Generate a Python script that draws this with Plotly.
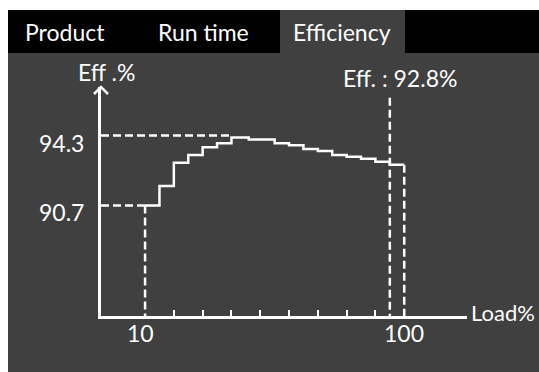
import plotly.graph_objects as go

# Efficiency curve: load (%) where each step starts, and efficiency (%) on that step
load_steps = [10, 15, 20, 25, 30, 35, 40, 46, 55, 60, 65, 70, 75, 80, 85, 90, 95, 100]
eff_steps = [90.7, 91.7, 92.9, 93.3, 93.7, 93.9, 94.2, 94.1, 93.9, 93.8, 93.6, 93.5,
             93.3, 93.2, 93.1, 92.95, 92.8, 92.8]

# Reference readings
peak_eff, peak_load = 94.3, 40
low_eff, low_load = 90.7, 10
cur_load, cur_eff = 95, 92.8
full_load = 100
cursor_top = 96.25

x_tick_vals = [20, 30, 40, 50, 60, 70, 80, 90]
x_labels = [10, 100]
y_labels = [94.3, 90.7]
tabs = ["Product", "Run time", "Efficiency"]

X_RANGE = [-5.3, 121.8]
Y_RANGE = [85.0, 96.8]

W, H = 539, 372
ML, MR, MT, MB = 101, 72, 87, 56
PW, PH = W - ML - MR, H - MT - MB

BG = "#404040"
FG = "#ffffff"
FONT = "Lato"
FS = 23


def px(x):
    return (x - ML) / PW


def py(y):
    return (H - MB - y) / PH


fig = go.Figure()

dash = "8px,4px"
line_kw = dict(color=FG, width=2.5)

# dashed guide lines
fig.add_trace(go.Scatter(x=[X_RANGE[0], peak_load], y=[peak_eff, peak_eff], mode="lines",
                         line=dict(dash=dash, **line_kw), hoverinfo="skip"))
fig.add_trace(go.Scatter(x=[X_RANGE[0], low_load], y=[low_eff, low_eff], mode="lines",
                         line=dict(dash=dash, **line_kw), hoverinfo="skip"))
fig.add_trace(go.Scatter(x=[low_load, low_load], y=[low_eff, Y_RANGE[0]], mode="lines",
                         line=dict(dash=dash, **line_kw), hoverinfo="skip"))
fig.add_trace(go.Scatter(x=[cur_load, cur_load], y=[cursor_top, Y_RANGE[0]], mode="lines",
                         line=dict(dash=dash, **line_kw), hoverinfo="skip"))
fig.add_trace(go.Scatter(x=[full_load, full_load], y=[eff_steps[-1], Y_RANGE[0]], mode="lines",
                         line=dict(dash=dash, **line_kw), hoverinfo="skip"))

# stepped efficiency curve
fig.add_trace(go.Scatter(x=load_steps, y=eff_steps, mode="lines", line_shape="hv",
                         line=line_kw, hoverinfo="skip"))

shapes = [
    # white frame strips
    dict(type="rect", xref="paper", yref="paper", x0=px(0), x1=px(W), y0=py(0), y1=py(10),
         fillcolor="#ffffff", line_width=0, layer="below"),
    dict(type="rect", xref="paper", yref="paper", x0=px(0), x1=px(8), y0=py(0), y1=py(H),
         fillcolor="#ffffff", line_width=0, layer="below"),
    # tab bar
    dict(type="rect", xref="paper", yref="paper", x0=px(8), x1=px(W), y0=py(10), y1=py(53),
         fillcolor="#000000", line_width=0, layer="below"),
    dict(type="rect", xref="paper", yref="paper", x0=px(280), x1=px(405), y0=py(10), y1=py(53),
         fillcolor=BG, line_width=0, layer="below"),
    # arrow head on the efficiency axis
    dict(type="path", xref="paper", yref="paper",
         path=f"M{px(94)},{py(94)} L{px(101)},{py(87)} L{px(108)},{py(94)}",
         line=dict(color=FG, width=2.5)),
]

annotations = []
tab_centers = [65, 203, 342]
for name, cx in zip(tabs, tab_centers):
    annotations.append(dict(text=name, xref="paper", yref="paper", x=px(cx), y=py(32),
                            xanchor="center", yanchor="middle", showarrow=False,
                            font=dict(family=FONT, size=FS, color=FG)))

annotations += [
    dict(text="Eff .%", xref="paper", yref="paper", x=px(106), y=py(72),
         xanchor="center", yanchor="middle", showarrow=False,
         font=dict(family=FONT, size=FS, color=FG)),
    dict(text=f"Eff. : {cur_eff}%", x=cur_load, xref="x", yref="paper", y=py(78),
         xanchor="center", yanchor="middle", showarrow=False, xshift=10,
         font=dict(family=FONT, size=FS, color=FG)),
    dict(text="Load%", xref="paper", yref="paper", x=px(537), y=py(312),
         xanchor="right", yanchor="middle", showarrow=False,
         font=dict(family=FONT, size=22, color=FG)),
]
for v in y_labels:
    annotations.append(dict(text=f"{v}", x=0, xref="paper", y=v, yref="y",
                            xanchor="right", yanchor="middle", xshift=-15, yshift=-7,
                            showarrow=False, font=dict(family=FONT, size=FS, color=FG)))
for v in x_labels:
    annotations.append(dict(text=f"{v}", x=v, xref="x", y=0, yref="paper",
                            xanchor="center", yanchor="middle", xshift=-5 if v == 10 else 0,
                            yshift=-17, showarrow=False,
                            font=dict(family=FONT, size=FS, color=FG)))

fig.update_layout(
    width=W, height=H,
    margin=dict(l=ML, r=MR, t=MT, b=MB, pad=0),
    paper_bgcolor=BG, plot_bgcolor="rgba(0,0,0,0)",
    showlegend=False,
    shapes=shapes,
    annotations=annotations,
    xaxis=dict(range=X_RANGE, showgrid=False, zeroline=False, showline=True,
               linecolor=FG, linewidth=2.5, tickmode="array", tickvals=x_tick_vals,
               ticktext=[""] * len(x_tick_vals), ticks="inside", ticklen=6,
               tickwidth=2, tickcolor=FG, fixedrange=True),
    yaxis=dict(range=Y_RANGE, showgrid=False, zeroline=False, showline=True,
               linecolor=FG, linewidth=2.5, showticklabels=False, ticks="",
               fixedrange=True),
)

fig.write_html("out.html", config={"displayModeBar": False})
